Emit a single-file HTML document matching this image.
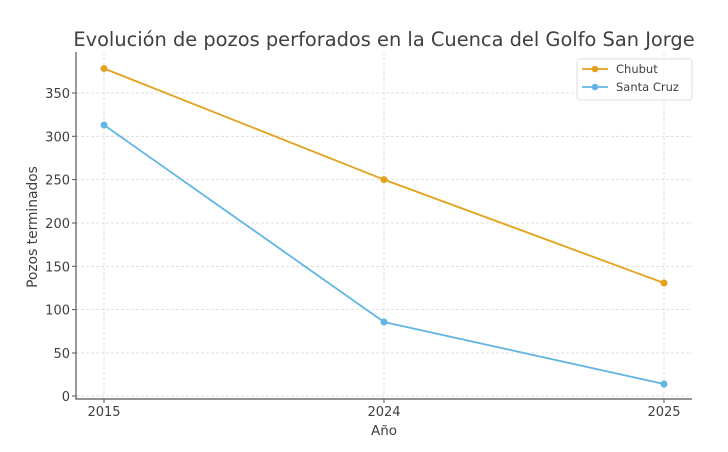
<!DOCTYPE html>
<html><head><meta charset="utf-8"><style>
body{margin:0;background:#fff;}
svg{display:block;font-family:"DejaVu Sans","Liberation Sans",sans-serif;}
</style></head><body>
<svg width="728" height="452" viewBox="0 0 728 452">
<rect width="728" height="452" fill="#fff"/>
<text x="384" y="46" text-anchor="middle" font-size="19.4" fill="#404040">Evolución de pozos perforados en la Cuenca del Golfo San Jorge</text>
<g stroke="#d8d8d8" stroke-width="0.8" stroke-dasharray="3,2">
<line x1="76" x2="692" y1="396" y2="396"/>
<line x1="76" x2="692" y1="353" y2="353"/>
<line x1="76" x2="692" y1="309.6" y2="309.6"/>
<line x1="76" x2="692" y1="266.3" y2="266.3"/>
<line x1="76" x2="692" y1="223" y2="223"/>
<line x1="76" x2="692" y1="179.6" y2="179.6"/>
<line x1="76" x2="692" y1="136.3" y2="136.3"/>
<line x1="76" x2="692" y1="93" y2="93"/>
<line x1="104" x2="104" y1="52" y2="399"/>
<line x1="384" x2="384" y1="52" y2="399"/>
<line x1="664" x2="664" y1="52" y2="399"/>
</g>
<g stroke="#555" stroke-width="1.2">
<line x1="76" y1="52" x2="76" y2="399.5"/>
<line x1="75.5" y1="399" x2="692" y2="399"/>
</g>
<g stroke="#555" stroke-width="1">
<line x1="72" x2="76" y1="396" y2="396"/><line x1="72" x2="76" y1="353" y2="353"/>
<line x1="72" x2="76" y1="309.6" y2="309.6"/><line x1="72" x2="76" y1="266.3" y2="266.3"/>
<line x1="72" x2="76" y1="223" y2="223"/><line x1="72" x2="76" y1="179.6" y2="179.6"/>
<line x1="72" x2="76" y1="136.3" y2="136.3"/><line x1="72" x2="76" y1="93" y2="93"/>
<line x1="104" x2="104" y1="399" y2="403"/><line x1="384" x2="384" y1="399" y2="403"/><line x1="664" x2="664" y1="399" y2="403"/>
</g>
<g font-size="13" fill="#404040" text-anchor="end">
<text x="70" y="401">0</text><text x="70" y="358">50</text><text x="70" y="314.6">100</text>
<text x="70" y="271.3">150</text><text x="70" y="228">200</text><text x="70" y="184.6">250</text>
<text x="70" y="141.3">300</text><text x="70" y="98">350</text>
</g>
<g font-size="13" fill="#404040" text-anchor="middle">
<text x="104" y="416">2015</text><text x="384" y="416">2024</text><text x="664" y="416">2025</text>
<text x="384" y="435" font-size="13.5">Año</text>
</g>
<text transform="translate(37,227) rotate(-90)" font-size="13.8" fill="#404040" text-anchor="middle">Pozos terminados</text>
<polyline points="104,68.5 384,179.6 664,283" fill="none" stroke="#e3a21a" stroke-width="1.8"/>
<polyline points="104,125 384,322 664,384" fill="none" stroke="#62b6e4" stroke-width="1.8"/>
<g fill="#e3a21a"><circle cx="104" cy="68.5" r="3.5"/><circle cx="384" cy="179.6" r="3.5"/><circle cx="664" cy="283" r="3.5"/></g>
<g fill="#62b6e4"><circle cx="104" cy="125" r="3.5"/><circle cx="384" cy="322" r="3.5"/><circle cx="664" cy="384" r="3.5"/></g>
<rect x="577" y="59" width="115" height="41" rx="3" fill="#fff" fill-opacity="0.85" stroke="#ddd"/>
<line x1="582" x2="608" y1="69" y2="69" stroke="#e3a21a" stroke-width="1.8"/><circle cx="595" cy="69" r="3.3" fill="#e3a21a"/>
<line x1="582" x2="608" y1="87" y2="87" stroke="#62b6e4" stroke-width="1.8"/><circle cx="595" cy="87" r="3.3" fill="#62b6e4"/>
<g font-size="11.5" fill="#404040"><text x="616" y="73">Chubut</text><text x="616" y="91">Santa Cruz</text></g>
</svg>
</body></html>
